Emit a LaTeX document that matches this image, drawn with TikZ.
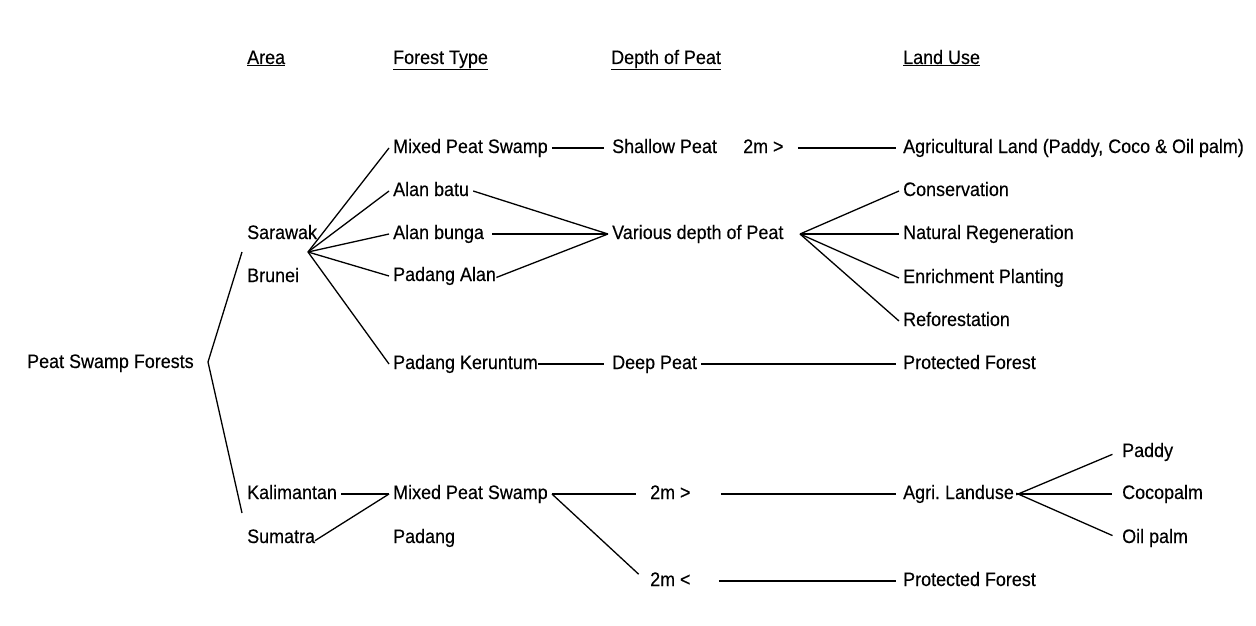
\documentclass[tikz,border=0pt]{standalone}
\usepackage{fontspec}
\setmainfont{Liberation Sans}[FakeStretch=0.92,FakeBold=0.3]
\usepackage{tikz}

\begin{document}
\begin{tikzpicture}[x=1pt,y=1pt,yscale=-1,xscale=1,
  lbl/.style={anchor=west,inner xsep=4pt,inner ysep=1pt,text height=14pt,text depth=4pt,
    font=\fontsize{19.5}{22}\selectfont},
  link/.style={line width=1.3pt}]
\useasboundingbox (0,0) rectangle (1256,626);
\frenchspacing

% Headers
\node [lbl] (hArea) at (243,59) {\underline{Area}};
\node [lbl] (hType) at (389,59) {\underline{Forest Type}};
\node [lbl] (hDepth) at (607,59) {\underline{Depth of Peat}};
\node [lbl] (hUse) at (899,59) {\underline{Land Use}};

% Root
\node [lbl] (psf) at (23,363) {Peat Swamp Forests};
\coordinate (rootJ) at (208,362);
\coordinate (upJ) at (242,252);
\coordinate (lowJ) at (242,513);
%Straight Lines
\draw [link] (upJ) -- (rootJ) -- (lowJ);

% Area
\node [lbl] (sar) at (243,234) {Sarawak};
\node [lbl] (bru) at (243,277) {Brunei};
\node [lbl] (kal) at (243,494) {Kalimantan};
\node [lbl] (sum) at (243,538) {Sumatra};

% Forest Type (Sarawak, Brunei)
\coordinate (sarJ) at (308,252);
\node [lbl] (mps) at (389,148) {Mixed Peat Swamp};
\node [lbl] (batu) at (389,191) {Alan batu};
\node [lbl] (bunga) at (389,234) {Alan bunga};
\node [lbl] (palan) at (389,276) {Padang Alan};
\node [lbl] (pker) at (389,364) {Padang Keruntum};
%Straight Lines
\foreach \n in {mps,batu,bunga,palan,pker}
  \draw [link] (sarJ) -- (\n.west);

% Depth of Peat (Sarawak, Brunei)
\node [lbl] (shallow) at (608,148) {Shallow Peat};
\node [lbl] (gtA) at (739,148) {2m >};
\node [lbl] (various) at (608,234) {Various depth of Peat};
\node [lbl] (deep) at (608,364) {Deep Peat};
\coordinate (varJ) at (800,234);
%Straight Lines
\draw [link,shorten >=4pt] (mps.east) -- (shallow.west);
\draw [link] (batu.east) -- (various.west);
\draw [link,shorten <=4pt] (bunga.east) -- (various.west);
\draw [link,shorten <=-4pt] (palan.east) -- (various.west);
\draw [link,shorten <=-4pt,shorten >=4pt] (pker.east) -- (deep.west);

% Land Use (Sarawak, Brunei)
\node [lbl] (agri) at (899,148) {Agricultural Land (Paddy, Coco \& Oil palm)};
\node [lbl] (cons) at (899,191) {Conservation};
\node [lbl] (natr) at (899,234) {Natural Regeneration};
\node [lbl] (enr) at (899,278) {Enrichment Planting};
\node [lbl] (refo) at (899,321) {Reforestation};
\node [lbl] (protA) at (899,364) {Protected Forest};
%Straight Lines
\draw [link,shorten <=10pt,shorten >=3pt] (gtA.east) -- (agri.west);
\foreach \n in {cons,natr,enr,refo}
  \draw [link] (varJ) -- (\n.west);
\draw [link,shorten >=3pt] (deep.east) -- (protA.west);

% Forest Type (Kalimantan, Sumatra)
\node [lbl] (mpsB) at (389,494) {Mixed Peat Swamp};
\node [lbl] (padang) at (389,538) {Padang};
%Straight Lines
\draw [link] (kal.east) -- (mpsB.west);
\draw [link,shorten <=-5pt] (sum.east) -- (mpsB.west);

% Depth of Peat (Kalimantan, Sumatra)
\node [lbl] (gtB) at (646,494) {2m >};
\node [lbl] (ltB) at (646,581) {2m <};
%Straight Lines
\draw [link,shorten >=10pt] (mpsB.east) -- (gtB.west);
\draw [link,shorten >=10pt] (mpsB.east) -- (ltB.west);

% Land Use (Kalimantan, Sumatra)
\node [lbl] (agriB) at (899,494) {Agri. Landuse};
\node [lbl] (paddy) at (1118,452) {Paddy};
\node [lbl] (coco) at (1118,494) {Cocopalm};
\node [lbl] (oil) at (1118,538) {Oil palm};
\node [lbl] (protB) at (899,581) {Protected Forest};
%Straight Lines
\draw [link,shorten <=26pt,shorten >=3pt] (gtB.east) -- (agriB.west);
\draw [link,shorten <=24pt,shorten >=3pt] (ltB.east) -- (protB.west);
\foreach \n in {paddy,coco,oil}
  \draw [link,shorten <=-2pt,shorten >=6pt] (agriB.east) -- (\n.west);

\end{tikzpicture}
\end{document}
